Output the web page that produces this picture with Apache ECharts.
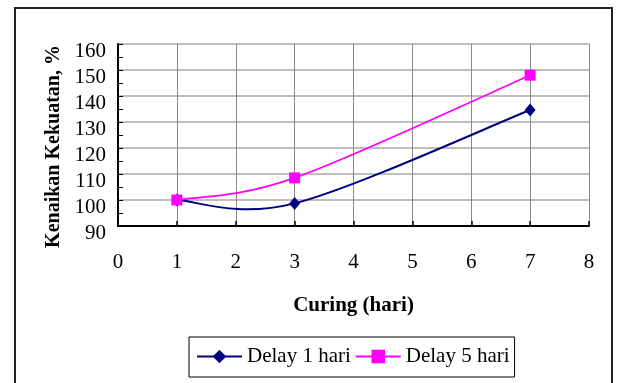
<!DOCTYPE html>
<html>
<head>
<meta charset="utf-8">
<script src="https://cdn.jsdelivr.net/npm/echarts@6/dist/echarts.min.js"></script>
<style>
html,body{margin:0;padding:0;background:#fff;}
#chart{width:618px;height:383px;}
</style>
</head>
<body>
<div id="chart"></div>
<script>
// Data
const curingDays = [1, 3, 7];
const delay1Hari = [100, 98.7, 134.6];
const delay5Hari = [100, 108.5, 148];
const seriesNames = ['Delay 1 hari', 'Delay 5 hari'];
const xTitle = 'Curing (hari)';
const yTitle = 'Kenaikan Kekuatan, %';

const FONT = '"Liberation Serif", "Times New Roman", serif';
const BLUE = '#000080', MAGENTA = '#ff00ff';
const chart = echarts.init(document.getElementById('chart'), null, {renderer: 'canvas'});

// Excel-like smoothed segment (Catmull-Rom, tension 1/6) drawn through the axis scales
function smoothSegment(values, color, width) {
  return function (params, api) {
    const i = params.dataIndex;
    const n = curingDays.length;
    if (i >= n - 1) return null;
    const P = k => {
      const j = Math.max(0, Math.min(n - 1, k));
      return api.coord([curingDays[j], values[j]]);
    };
    const p0 = P(i - 1), p1 = P(i), p2 = P(i + 1), p3 = P(i + 2);
    return {
      type: 'bezierCurve',
      shape: {
        x1: p1[0], y1: p1[1], x2: p2[0], y2: p2[1],
        cpx1: p1[0] + (p2[0] - p0[0]) / 6, cpy1: p1[1] + (p2[1] - p0[1]) / 6,
        cpx2: p2[0] - (p3[0] - p1[0]) / 6, cpy2: p2[1] - (p3[1] - p1[1]) / 6
      },
      style: {fill: 'none', stroke: color, lineWidth: width},
      silent: true
    };
  };
}

const option = {
  backgroundColor: '#fff',
  animation: false,
  graphic: [{
    type: 'rect',
    shape: {x: 15, y: 8, width: 597, height: 420},
    style: {fill: 'none', stroke: '#222', lineWidth: 2},
    silent: true
  }],
  grid: {left: 118, top: 44, right: 29, bottom: 157, containLabel: false},
  xAxis: {
    type: 'value', min: 0, max: 8, interval: 1,
    name: xTitle, nameLocation: 'middle', nameGap: 69,
    nameTextStyle: {fontFamily: FONT, fontSize: 21, fontWeight: 'bold', color: '#000'},
    axisLine: {show: true, onZero: false, lineStyle: {color: '#000', width: 2}},
    axisTick: {show: true, inside: true, length: 5, lineStyle: {color: '#000', width: 1.5}},
    axisLabel: {fontFamily: FONT, fontSize: 21, color: '#000', margin: 26},
    splitLine: {show: true, lineStyle: {color: '#8a8a8a', width: 1}}
  },
  yAxis: {
    type: 'value', min: 90, max: 160, interval: 10,
    name: yTitle, nameLocation: 'middle', nameGap: 48, nameRotate: 90,
    nameTextStyle: {fontFamily: FONT, fontSize: 20, fontWeight: 'bold', color: '#000', padding: [0, 23, 0, 0]},
    axisLine: {show: true, lineStyle: {color: '#000', width: 2}},
    axisTick: {show: true, inside: true, length: 5, lineStyle: {color: '#000', width: 1}},
    minorTick: {show: true, splitNumber: 2, length: 5, lineStyle: {color: '#000', width: 1}},
    axisLabel: {fontFamily: FONT, fontSize: 21, color: '#000', margin: 12, verticalAlign: 'top', lineHeight: 14},
    splitLine: {show: true, lineStyle: {color: '#a8a8a8', width: 1.5}}
  },
  legend: {
    left: 189, top: 337,
    orient: 'horizontal',
    padding: [9, 5, 10, 7],
    itemGap: 4,
    itemWidth: 45, itemHeight: 17,
    borderColor: '#000', borderWidth: 1,
    textStyle: {fontFamily: FONT, fontSize: 21, color: '#000'},
    data: [
      {name: seriesNames[0], lineStyle: {color: BLUE, width: 2, opacity: 1}},
      {name: seriesNames[1], lineStyle: {color: MAGENTA, width: 2, opacity: 1}}
    ]
  },
  series: [
    {
      name: seriesNames[0], type: 'line',
      data: curingDays.map((d, i) => [d, delay1Hari[i]]),
      symbol: 'diamond', symbolSize: [11, 13],
      lineStyle: {color: BLUE, width: 2, opacity: 0},
      itemStyle: {color: BLUE}, z: 3
    },
    {
      name: seriesNames[1], type: 'line',
      data: curingDays.map((d, i) => [d, delay5Hari[i]]),
      symbol: 'rect', symbolSize: 11,
      lineStyle: {color: MAGENTA, width: 2, opacity: 0},
      itemStyle: {color: MAGENTA}, z: 3
    },
    {
      name: seriesNames[0], type: 'custom',
      data: curingDays.map((d, i) => [d, delay1Hari[i]]),
      renderItem: smoothSegment(delay1Hari, BLUE, 2), z: 1
    },
    {
      name: seriesNames[1], type: 'custom',
      data: curingDays.map((d, i) => [d, delay5Hari[i]]),
      renderItem: smoothSegment(delay5Hari, MAGENTA, 1.8), z: 1
    }
  ]
};
chart.setOption(option);
</script>
</body>
</html>
